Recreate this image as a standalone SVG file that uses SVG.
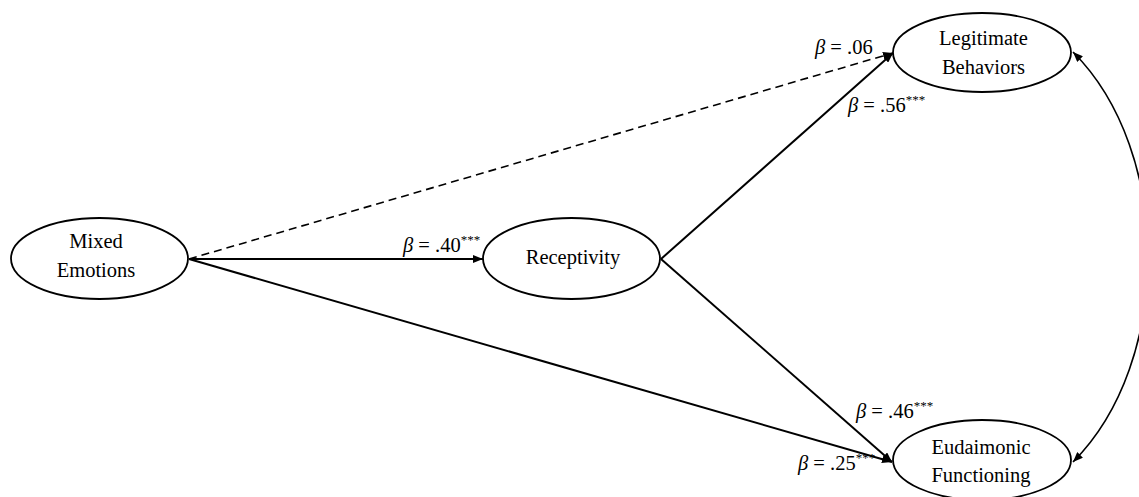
<svg xmlns="http://www.w3.org/2000/svg" width="1139" height="497" viewBox="0 0 1139 497">
<style>
.node{fill:#fff;stroke:#000;stroke-width:1.8}
.t{font-family:"Liberation Serif","Times New Roman",serif;font-size:20.5px;fill:#000;text-anchor:middle}
.lbl{font-family:"Liberation Serif","Times New Roman",serif;font-size:20.5px;fill:#000}
.b{font-style:italic}
.sup{font-size:13px}
.c{fill:none;stroke:#000;stroke-width:2}
.d{fill:none;stroke:#000;stroke-width:1.6;stroke-dasharray:8 5}
</style>
<defs>
<marker id="ah" markerUnits="userSpaceOnUse" markerWidth="10" markerHeight="8" refX="10" refY="4" orient="auto-start-reverse">
<path d="M0,0 L10,4 L0,8 z" fill="#000"/>
</marker>
</defs>
<rect width="1139" height="497" fill="#fff"/>
<g id="connectors">
<line class="d" x1="189" y1="259" x2="893" y2="53" marker-end="url(#ah)"/>
<line class="c" x1="189" y1="259" x2="483" y2="259" marker-end="url(#ah)"/>
<line class="c" x1="189" y1="259" x2="892" y2="462" marker-end="url(#ah)"/>
<line class="c" x1="661" y1="259" x2="893" y2="53" marker-end="url(#ah)"/>
<line class="c" x1="661" y1="259" x2="892" y2="462" marker-end="url(#ah)"/>
<path class="c" style="stroke-width:1.6" d="M1073,52 C1173,152 1173,362 1073,462" marker-start="url(#ah)" marker-end="url(#ah)"/>
</g>
<g id="labels">
<text class="lbl" x="403" y="252"><tspan class="b">β</tspan> = .40<tspan class="sup" dy="-8">***</tspan></text>
<text class="lbl" x="815" y="54"><tspan class="b">β</tspan> = .06</text>
<text class="lbl" x="848" y="112"><tspan class="b">β</tspan> = .56<tspan class="sup" dy="-8">***</tspan></text>
<text class="lbl" x="856" y="418"><tspan class="b">β</tspan> = .46<tspan class="sup" dy="-8">***</tspan></text>
<text class="lbl" x="798" y="470"><tspan class="b">β</tspan> = .25<tspan class="sup" dy="-8">***</tspan></text>
</g>
<g id="mixed">
<ellipse class="node" cx="99.5" cy="258.5" rx="88.5" ry="40.5"/>
<text class="t" x="96" y="248">Mixed</text>
<text class="t" x="96" y="277">Emotions</text>
</g>
<g id="receptivity">
<ellipse class="node" cx="571.5" cy="258.5" rx="88.5" ry="40.5"/>
<text class="t" x="573" y="264">Receptivity</text>
</g>
<g id="legitimate">
<ellipse class="node" cx="982" cy="52.5" rx="89" ry="39.5"/>
<text class="t" x="983.5" y="45">Legitimate</text>
<text class="t" x="983.5" y="74">Behaviors</text>
</g>
<g id="eudaimonic">
<ellipse class="node" cx="982" cy="460" rx="89" ry="40"/>
<text class="t" x="981" y="454">Eudaimonic</text>
<text class="t" x="981" y="482">Functioning</text>
</g>
</svg>
